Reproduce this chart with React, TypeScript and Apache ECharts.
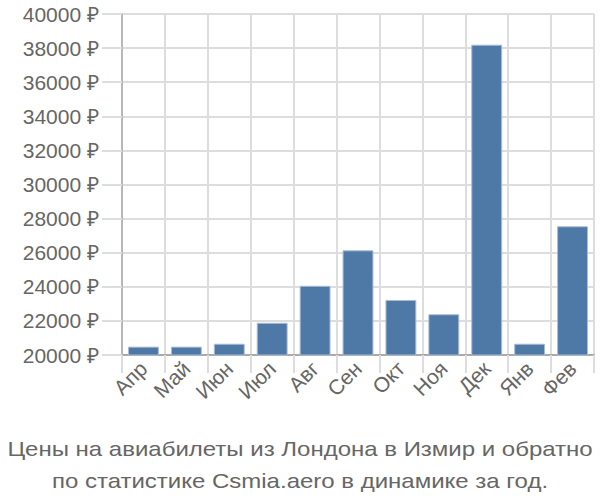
import React, { useEffect, useRef } from "react";
import * as echarts from "echarts";

const categories = ["Апр", "Май", "Июн", "Июл", "Авг", "Сен", "Окт", "Ноя", "Дек", "Янв", "Фев"];
const prices = [20490, 20490, 20660, 21890, 24060, 26140, 23230, 22390, 38200, 20660, 27550];
const titleLines = [
  "Цены на авиабилеты из Лондона в Измир и обратно",
  "по статистике Csmia.aero в динамике за год.",
];

const FONT = "Liberation Sans, Arial, sans-serif";

export default function App() {
  const ref = useRef<HTMLDivElement>(null);
  useEffect(() => {
    if (!ref.current) return;
    const chart = echarts.init(ref.current, null, { renderer: "svg" });
    chart.setOption({
      animation: false,
      graphic: titleLines.map((line, i) => ({
        type: "text",
        x: 300,
        y: 449 + i * 32,
        scaleX: 1.2,
        silent: true,
        style: {
          text: line,
          fontFamily: FONT,
          fontSize: 20,
          fill: "#666",
          align: "center",
          verticalAlign: "middle",
          textAlign: "center",
          textVerticalAlign: "middle",
        },
      })),
      grid: { left: 122, right: 6, top: 14, bottom: 145, containLabel: false },
      xAxis: {
        type: "category",
        data: categories,
        axisLine: { show: true, lineStyle: { color: "#aaa", width: 2 } },
        axisTick: { show: true, length: 18, lineStyle: { color: "#ddd", width: 2 } },
        splitLine: { show: true, lineStyle: { color: "#ddd", width: 2 } },
        axisLabel: {
          rotate: 45,
          fontFamily: FONT,
          fontSize: 21,
          color: "#666",
          margin: 10,
          interval: 0,
        },
      },
      yAxis: {
        type: "value",
        min: 20000,
        max: 40000,
        interval: 2000,
        axisLine: { show: true, lineStyle: { color: "#aaa", width: 1.5 } },
        axisTick: { show: true, length: 20, lineStyle: { color: "#ddd", width: 2 } },
        splitLine: { show: true, lineStyle: { color: "#ddd", width: 2 } },
        axisLabel: {
          formatter: (v: number) => v + " ₽",
          fontFamily: FONT,
          fontSize: 21,
          color: "#666",
          margin: 23,
        },
      },
      series: [
        {
          type: "bar",
          data: prices,
          barCategoryGap: "28%",
          itemStyle: { color: "#4e79a7", borderColor: "#a9bdd4", borderWidth: 1 },
        },
      ],
    });
    return () => chart.dispose();
  }, []);
  return (
    <div style={{ position: "absolute", left: 0, top: 0, width: 600, height: 500 }}>
      <div ref={ref} style={{ width: 600, height: 500 }} />
    </div>
  );
}
